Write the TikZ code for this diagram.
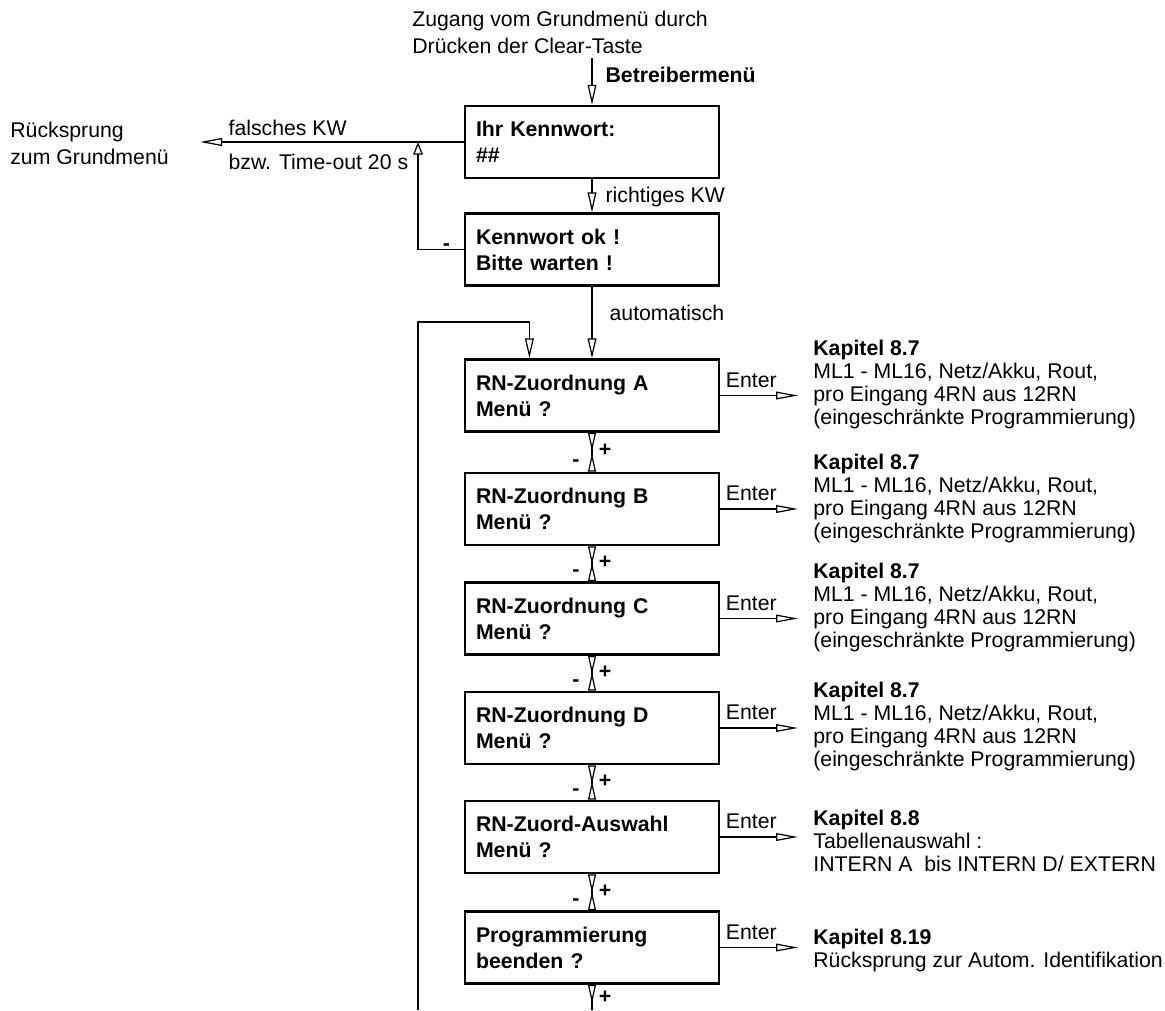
\documentclass[tikz,border=0pt]{standalone}
\usepackage{fontspec}
\setmainfont{Liberation Sans}
\usetikzlibrary{arrows.meta, positioning, calc}

\tikzset{
  menubox/.style={draw, line width=1.5pt, text width=4.64cm, minimum height=1.44cm, inner xsep=0.22cm, inner ysep=0pt, align=left, font=\fontsize{12.1}{14.7}\selectfont\bfseries},
  flow/.style={line width=0.7pt, -{Triangle[open, length=11.3pt, width=5pt]}},
  flowleft/.style={line width=0.7pt, -{Triangle[open, length=12.5pt, width=4.5pt]}},
  flowup/.style={line width=0.7pt, -{Triangle[open, length=7.2pt, width=5.5pt]}},
  enterarrow/.style={line width=0.7pt, -{Triangle[open, length=12.5pt, width=4.4pt]}},
  stepper/.style={line width=0.7pt, arrows={Triangle[open, reversed, length=10.5pt, width=4.5pt]}-{Triangle[open, reversed, length=10.5pt, width=4.5pt]}},
  chapter/.style={anchor=north west, align=left, inner xsep=0.3cm, inner ysep=0pt, font=\fontsize{12.1}{13}\selectfont},
  note/.style={align=left, inner sep=0pt, font=\fontsize{12.1}{15.3}\selectfont},
  tag/.style={anchor=west, inner sep=0pt, font=\fontsize{12.1}{14}\selectfont},
  sign/.style={inner sep=0pt, font=\fontsize{12.1}{14}\selectfont\bfseries}
}

\begin{document}
\begin{tikzpicture}[x=0.02cm, y=-0.02cm, font=\fontsize{12.1}{14}\selectfont]
  \useasboundingbox (0,0) rectangle (1165,1010);

  % entry and password
  \node[note, anchor=north west, inner ysep=0.08cm] (zugang) at (412,7) {Zugang vom Grundmenü durch\\Drücken der Clear-Taste};
  \node[note, anchor=north west] (ruecksprung) at (10,122) {Rücksprung\\zum Grundmenü};

  \node[menubox] (kennwort) at (592,142) {Ihr Kennwort:\\\#\#};
  \node[menubox] (warten) at (592,249.5) {Kennwort ok !\\Bitte warten !};

  % menu chain
  \node[menubox] (zuordA) at (592,395.5) {RN-Zuordnung A\\Menü ?};
  \node[menubox] (zuordB) at (592,509) {RN-Zuordnung B\\Menü ?};
  \node[menubox] (zuordC) at (592,618.5) {RN-Zuordnung C\\Menü ?};
  \node[menubox] (zuordD) at (592,728) {RN-Zuordnung D\\Menü ?};
  \node[menubox] (auswahl) at (592,837) {RN-Zuord-Auswahl\\Menü ?};
  \node[menubox] (beenden) at (592,947.5) {Programmierung\\beenden ?};

  % chapter notes
  \node[chapter] (kapA) at (798,340) {\textbf{Kapitel 8.7}\\ML1 - ML16, Netz/Akku, Rout,\\pro Eingang 4RN aus 12RN\\(eingeschränkte Programmierung)};
  \node[chapter] (kapB) at (798,454) {\textbf{Kapitel 8.7}\\ML1 - ML16, Netz/Akku, Rout,\\pro Eingang 4RN aus 12RN\\(eingeschränkte Programmierung)};
  \node[chapter] (kapC) at (798,563) {\textbf{Kapitel 8.7}\\ML1 - ML16, Netz/Akku, Rout,\\pro Eingang 4RN aus 12RN\\(eingeschränkte Programmierung)};
  \node[chapter] (kapD) at (798,682) {\textbf{Kapitel 8.7}\\ML1 - ML16, Netz/Akku, Rout,\\pro Eingang 4RN aus 12RN\\(eingeschränkte Programmierung)};
  \node[chapter] (kapE) at (798,810) {\textbf{Kapitel 8.8}\\Tabellenauswahl :\\INTERN A\ \ bis INTERN D/ EXTERN};
  \node[chapter] (kapF) at (798,929) {\textbf{Kapitel 8.19}\\Rücksprung zur Autom. Identifikation};

  \coordinate (back) at (418,142);
  \coordinate (loopfoot) at (418,1010);
  \coordinate (looptop) at (418,322);
  \coordinate (tailend) at (592,1010);

  \draw[flow] (zugang.south -| kennwort.north) -- (kennwort.north)
    node[pos=0.37, tag, xshift=0.26cm, font=\fontsize{12.1}{14}\selectfont\bfseries] {Betreibermenü};
  \draw[flow] (kennwort) -- (warten) node[pos=0.54, tag, xshift=0.26cm] {richtiges KW};
  \draw[flow] (warten) -- (zuordA) node[pos=0.37, tag, xshift=0.34cm] {automatisch};

  \draw[flowleft] (kennwort.west) -- ($(ruecksprung.east |- kennwort.west)+(31,0)$)
    node[pos=0.894, anchor=south west, inner xsep=0pt, inner ysep=0.12cm] {falsches KW}
    node[pos=0.894, anchor=north west, inner xsep=0pt, inner ysep=0.22cm] {bzw. Time-out 20 s};
  \draw[flowup] (warten.west) -| (back) node[pos=0.19, sign, yshift=0.05cm] {-};

  % loop back to the first menu
  \draw[flow] (loopfoot) -- (looptop) -| ($(zuordA.north west)!0.256!(zuordA.north east)$);

  \foreach \a/\b in {zuordA/zuordB, zuordB/zuordC, zuordC/zuordD, zuordD/auswahl, auswahl/beenden}
    \draw[stepper] (\a) -- (\b) node[pos=0.46, sign, xshift=0.26cm] {+} node[pos=0.77, sign, xshift=-0.32cm] {-};
  \draw[line width=0.7pt, arrows={Triangle[open, reversed, length=10.5pt, width=4.5pt]}-] (beenden) -- (tailend)
    node[pos=0.5, sign, xshift=0.26cm] {+};

  \foreach \b/\c in {zuordA/kapA, zuordB/kapB, zuordC/kapC, zuordD/kapD, auswahl/kapE, beenden/kapF}
    \draw[enterarrow] (\b.east) -- (\b.east -| \c.west)
      node[pos=0, anchor=south west, inner xsep=0.1cm, inner ysep=0.15cm] {Enter};
\end{tikzpicture}
\end{document}
